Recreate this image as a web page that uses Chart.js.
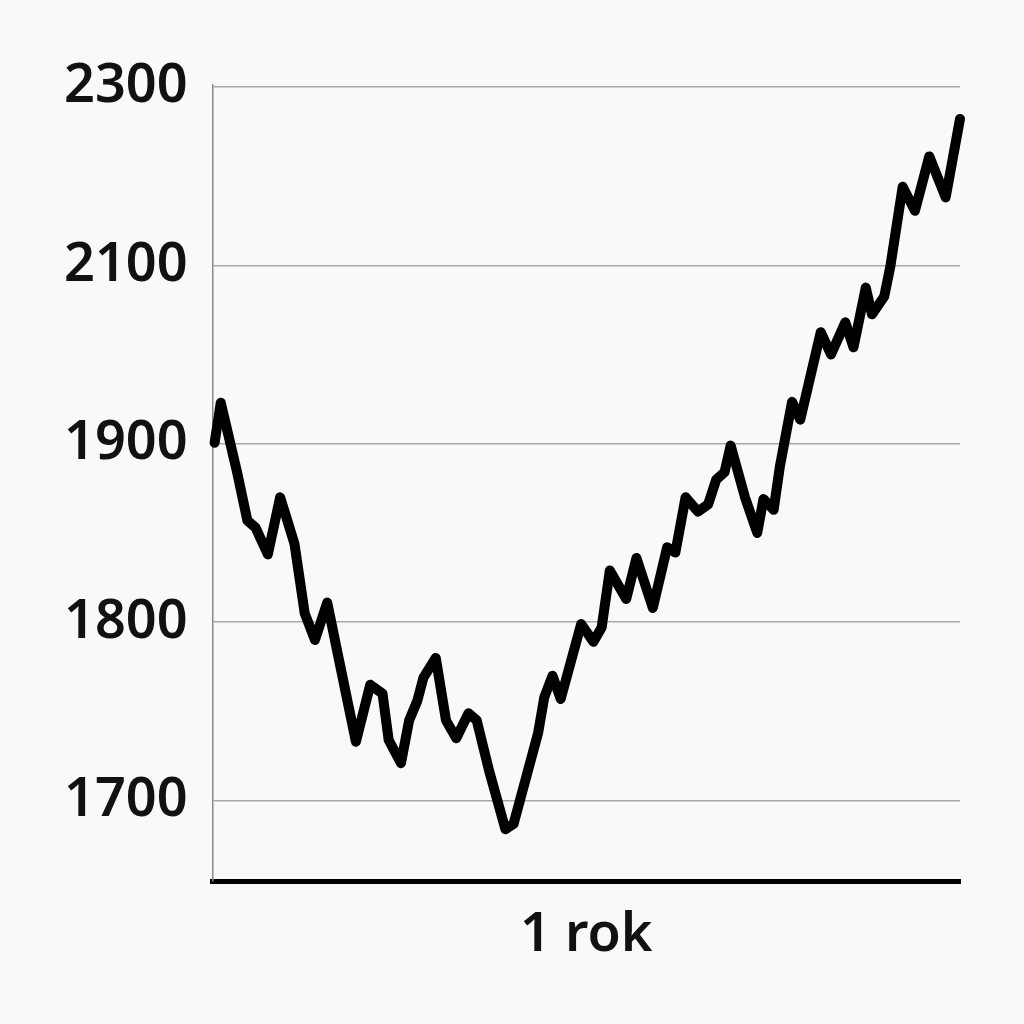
<!DOCTYPE html>
<html>
<head>
<meta charset="utf-8">
<script src="https://cdn.jsdelivr.net/npm/chart.js@4/dist/chart.umd.min.js"></script>
<style>
  html, body { margin: 0; padding: 0; background: #faf9f7; }
  #wrap { width: 1024px; height: 1024px; }
</style>
</head>
<body>
<div id="wrap"><canvas id="lineChart"></canvas></div>
<script>
// dzień w roku
const days = [1, 4, 12, 17, 21, 27, 33, 40, 45, 50, 56, 61, 70, 77, 83, 86, 92, 96, 100, 103,
    109, 114, 119, 125, 129, 135, 143, 147, 155, 159, 162, 166, 170, 180, 186, 190, 194, 202, 207, 215,
    222, 226, 231, 237, 242, 246, 250, 253, 260, 266, 269, 274, 277, 283, 287, 297, 302, 309, 313, 319,
    322, 328, 331, 337, 343, 350, 358, 365];
// wartości
const values = [1901, 1946, 1884, 1857, 1853, 1838, 1870, 1844, 1805, 1790, 1811, 1783, 1733, 1765, 1760, 1734, 1721, 1745, 1756, 1769,
    1780, 1745, 1735, 1749, 1745, 1717, 1684, 1687, 1721, 1738, 1758, 1770, 1757, 1799, 1789, 1797, 1829, 1813, 1836, 1808,
    1842, 1839, 1870, 1862, 1866, 1880, 1884, 1899, 1870, 1850, 1869, 1863, 1887, 1947, 1927, 2025, 2000, 2036, 2008, 2075,
    2045, 2065, 2099, 2188, 2161, 2222, 2176, 2264];
// etykiety osi Y (rozmieszczone równo, skala nieliniowa)
const yTicks = [1700, 1800, 1900, 2100, 2300];

// wartość -> pozycja na osi (odcinkami liniowo między etykietami)
function toAxis(v) {
    if (v <= yTicks[0]) return (v - yTicks[0]) / (yTicks[1] - yTicks[0]);
    for (let i = 0; i < yTicks.length - 1; i++) {
        if (v <= yTicks[i + 1]) return i + (v - yTicks[i]) / (yTicks[i + 1] - yTicks[i]);
    }
    const n = yTicks.length - 1;
    return n + (v - yTicks[n]) / (yTicks[n] - yTicks[n - 1]);
}

const points = days.map((d, i) => ({ x: d, y: toAxis(values[i]) }));

const ctx = document.getElementById('lineChart').getContext('2d');
const myChart = new Chart(ctx, {
    type: 'line',
    data: {
        datasets: [{
            data: points,
            borderColor: '#000000',
            borderWidth: 10,
            borderJoinStyle: 'round',
            borderCapStyle: 'round',
            pointRadius: 0,
            tension: 0,
            fill: false,
            clip: false
        }]
    },
    options: {
        responsive: true,
        maintainAspectRatio: false,
        animation: false,
        layout: {
            padding: { left: 39, right: 64, top: 85, bottom: 61 }
        },
        plugins: {
            legend: { display: false },
            tooltip: { enabled: false }
        },
        scales: {
            x: {
                type: 'linear',
                min: 0,
                max: 365,
                grid: { display: false, drawTicks: false },
                border: { display: true, color: '#000000', width: 5 },
                ticks: { display: false },
                title: {
                    display: true,
                    text: '1 rok',
                    color: '#111111',
                    font: { family: 'Noto Sans', size: 54, weight: '600', lineHeight: 1.0 },
                    padding: { top: 28, bottom: 0 }
                }
            },
            y: {
                type: 'linear',
                min: -0.45,
                max: 4.01,
                afterBuildTicks: function(scale) {
                    scale.ticks = yTicks.map((t, i) => ({ value: i }));
                },
                grid: { color: '#a8a8a8', lineWidth: 1.5, drawTicks: false },
                border: { display: true, color: '#8a8a8a', width: 1.5 },
                ticks: {
                    padding: 25,
                    color: '#111111',
                    font: { family: 'Noto Sans', size: 54, weight: '600' },
                    callback: function(value) {
                        return yTicks[value];
                    }
                }
            }
        }
    }
});
</script>
</body>
</html>
